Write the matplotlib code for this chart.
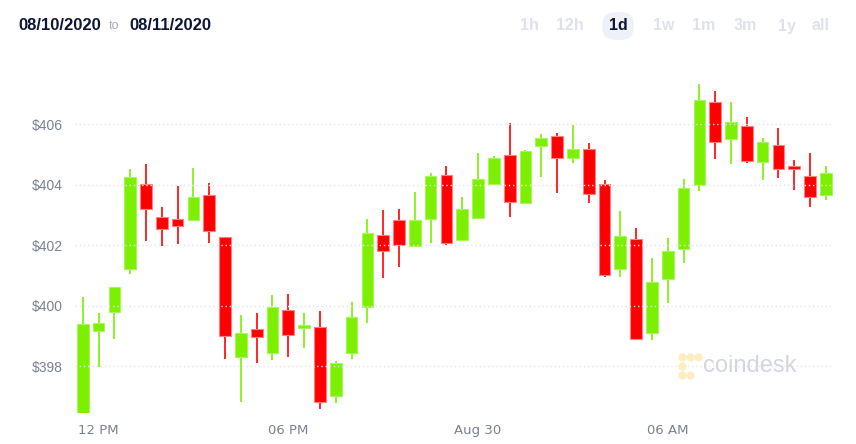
import numpy as np
import matplotlib.pyplot as plt

# half-hourly candles, 11:30 AM Aug 29 -> 11:00 AM Aug 30
opens = [396.46, 399.16, 399.80, 401.20, 404.02, 402.92, 402.87, 402.83, 403.65, 402.26,
         398.30, 399.22, 398.42, 399.86, 399.27, 399.30, 397.01, 398.44, 399.94, 402.33,
         402.82, 401.96, 402.86, 404.31, 402.17, 402.90, 404.02, 404.98, 403.38, 405.28,
         405.60, 404.87, 405.17, 404.01, 401.20, 402.19, 399.09, 400.89, 401.86, 403.98,
         406.74, 405.52, 405.92, 404.74, 405.31, 404.62, 404.28, 403.66]
closes = [399.38, 399.41, 400.60, 404.24, 403.18, 402.54, 402.63, 403.58, 402.47, 399.00,
          399.09, 398.96, 399.96, 399.02, 399.36, 396.82, 398.09, 399.63, 402.39, 401.80,
          402.01, 402.82, 404.28, 402.08, 403.19, 404.17, 404.89, 403.42, 405.12, 405.53,
          404.89, 405.17, 403.70, 401.02, 402.30, 398.90, 400.78, 401.79, 403.87, 406.79,
          405.41, 406.06, 404.78, 405.40, 404.52, 404.50, 403.60, 404.37]
highs = [400.29, 399.76, 400.63, 404.50, 404.68, 403.25, 403.95, 404.55, 404.04, 402.28,
         399.68, 399.75, 400.35, 400.37, 399.76, 399.81, 398.18, 400.13, 402.86, 403.16,
         403.18, 403.75, 404.37, 404.61, 403.58, 405.03, 404.95, 406.02, 405.14, 405.67,
         405.69, 405.97, 405.38, 404.15, 403.11, 402.57, 401.57, 402.22, 404.18, 407.32,
         407.10, 406.73, 406.22, 405.55, 405.86, 404.81, 405.03, 404.61]
lows = [396.40, 397.98, 398.89, 401.04, 402.14, 401.97, 402.02, 402.83, 402.08, 398.23,
        396.81, 398.11, 398.20, 398.31, 398.59, 396.57, 396.77, 398.25, 399.44, 400.90,
        401.26, 401.96, 402.08, 402.00, 402.13, 402.90, 404.02, 402.92, 403.38, 404.26,
        403.73, 404.70, 403.38, 400.93, 400.93, 398.90, 398.85, 400.07, 401.41, 403.80,
        404.85, 404.69, 404.72, 404.14, 404.20, 403.82, 403.27, 403.49]
tick_pos = [1, 13, 25, 37]
tick_labels = ["12 PM", "06 PM", "Aug 30", "06 AM"]
y_ticks = [398, 400, 402, 404, 406]
ranges = ["1h", "12h", "1d", "1w", "1m", "3m", "1y", "all"]

green = "#7cf000"
red = "#ff0000"
grey = "#7b8190"

fig = plt.figure(figsize=(8.56, 4.44), dpi=100)
ax = fig.add_axes([75 / 856, 31 / 444, 758 / 856, 348 / 444])

x = np.arange(len(opens))
o = np.array(opens)
c = np.array(closes)
up = c >= o
cols = np.where(up, green, red)
edge = np.where(up, "#a8f560", "#ff8080")

ax.vlines(x, lows, highs, colors=cols, linewidth=1.2, zorder=1)
ax.bar(x, np.abs(c - o), bottom=np.minimum(o, c), width=0.74,
       color=cols, edgecolor=edge, linewidth=0.8, zorder=2)

for v in y_ticks:
    ax.axhline(v, color="#e2e5ee", linewidth=1, linestyle=(0, (1, 2)), zorder=3)

ax.set_xlim(-0.49, 47.45)
ax.set_ylim(396.45, 407.95)
ax.set_yticks(y_ticks)
ax.set_yticklabels(["$%d" % v for v in y_ticks], color=grey, fontsize=10,
                   family="Liberation Sans")
ax.set_xticks(tick_pos)
ax.set_xticklabels(tick_labels, color=grey, fontsize=9.5,
                   family=["Liberation Sans Narrow", "DejaVu Sans"])
ax.tick_params(length=0, pad=8)
ax.tick_params(axis="y", pad=9)
for s in ax.spines.values():
    s.set_visible(False)

# header
fig.text(18 / 856, 1 - 25 / 444, "08/10/2020", fontsize=12, fontweight="bold",
         color="#0f1535", va="center", family="Liberation Sans")
fig.text(109 / 856, 1 - 26 / 444, "to", fontsize=9, color="#a9adba",
         va="center", family="Liberation Sans")
fig.text(129 / 856, 1 - 25 / 444, "08/11/2020", fontsize=12, fontweight="bold",
         color="#0f1535", va="center", family="Liberation Sans")

rx = [529, 570, 618, 664, 704, 745, 787, 820]
for lab, px in zip(ranges, rx):
    if lab == "1d":
        fig.text(px / 856, 1 - 26 / 444, lab, fontsize=11.5, fontweight="bold",
                 color="#0f1535", ha="center", va="center", family="Liberation Sans",
                 bbox=dict(boxstyle="round,pad=0.4,rounding_size=0.8",
                           fc="#eef2f8", ec="none"))
    else:
        fig.text(px / 856, 1 - 26 / 444, lab, fontsize=11.5, fontweight="bold",
                 color="#dfe2ea", ha="center", va="center", family="Liberation Sans")

# watermark
fig.text(703 / 856, 1 - 366 / 444, "coindesk", fontsize=17, color="#d3d6de",
         va="center", family="Liberation Sans")
lx = np.array([682, 690, 698, 682, 682, 690]) / 856
ly = 1 - np.array([357, 357, 357, 366, 375, 375]) / 444
fig.add_artist(plt.Line2D(lx, ly, marker="o", markersize=5, linestyle="none",
                          color="#fdedc0", transform=fig.transFigure))

fig.savefig("out.png", dpi=100)
